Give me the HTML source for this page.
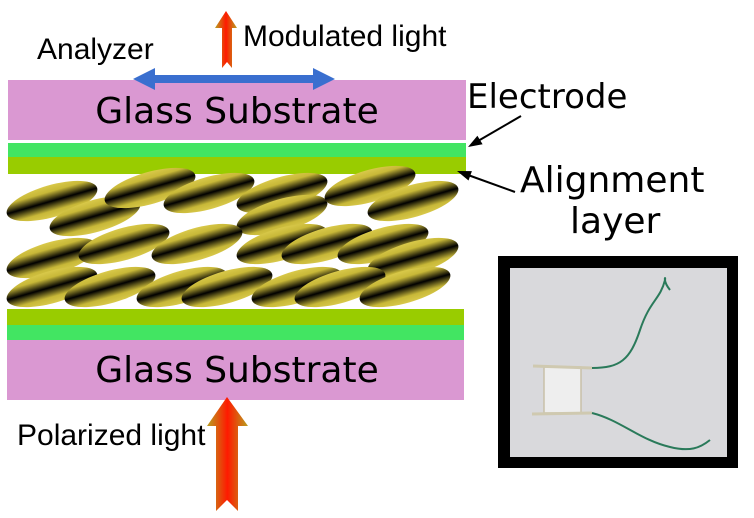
<!DOCTYPE html>
<html><head><meta charset="utf-8"><style>
html,body{margin:0;padding:0;background:#fff;}
svg{display:block;font-family:"DejaVu Sans","Liberation Sans",sans-serif;}
.a{font-family:"Liberation Sans",Arial,sans-serif;}
</style></head><body>
<svg width="754" height="518" viewBox="0 0 754 518" xmlns="http://www.w3.org/2000/svg">
<defs>
<linearGradient id="lc" x1="0" y1="0" x2="0" y2="1">
<stop offset="0" stop-color="#d9c94a"/><stop offset="0.2" stop-color="#c8b838"/><stop offset="0.5" stop-color="#000"/><stop offset="0.8" stop-color="#c8b838"/><stop offset="1" stop-color="#d9c94a"/>
</linearGradient>
<linearGradient id="ar" x1="0" y1="0" x2="1" y2="0">
<stop offset="0" stop-color="#b8a020"/><stop offset="0.5" stop-color="#ff1a00"/><stop offset="1" stop-color="#b8a020"/>
</linearGradient>
<g id="el"><ellipse cx="0" cy="0" rx="47" ry="16" fill="url(#lc)"/></g>
</defs>
<rect x="8" y="80" width="458" height="60" fill="#da98d2"/>
<rect x="8" y="143" width="458" height="14" fill="#42e562"/>
<rect x="8" y="157" width="458" height="17" fill="#99cc00"/>
<rect x="7" y="309" width="457" height="16" fill="#99cc00"/>
<rect x="7" y="325" width="457" height="15" fill="#42e562"/>
<rect x="7" y="340" width="457" height="60" fill="#da98d2"/>
<g>
<use href="#el" transform="translate(52,201) rotate(-16)"/>
<use href="#el" transform="translate(95,216) rotate(-16)"/>
<use href="#el" transform="translate(150,188) rotate(-16)"/>
<use href="#el" transform="translate(209,193) rotate(-16)"/>
<use href="#el" transform="translate(282,193) rotate(-16)"/>
<use href="#el" transform="translate(282,215) rotate(-16)"/>
<use href="#el" transform="translate(370,186) rotate(-16)"/>
<use href="#el" transform="translate(413,201) rotate(-16)"/>
<use href="#el" transform="translate(52,258) rotate(-16)"/>
<use href="#el" transform="translate(124,244) rotate(-16)"/>
<use href="#el" transform="translate(197,244) rotate(-16)"/>
<use href="#el" transform="translate(282,244) rotate(-16)"/>
<use href="#el" transform="translate(327,244) rotate(-16)"/>
<use href="#el" transform="translate(383,244) rotate(-16)"/>
<use href="#el" transform="translate(413,258) rotate(-16)"/>
<use href="#el" transform="translate(52,287) rotate(-16)"/>
<use href="#el" transform="translate(110,287) rotate(-16)"/>
<use href="#el" transform="translate(182,287) rotate(-16)"/>
<use href="#el" transform="translate(227,287) rotate(-16)"/>
<use href="#el" transform="translate(297,287) rotate(-16)"/>
<use href="#el" transform="translate(340,287) rotate(-16)"/>
<use href="#el" transform="translate(405,287) rotate(-16)"/>
</g>
<path d="M133,79 L155,68 L155,75 L313,75 L313,68 L335,79 L313,90 L313,83 L155,83 L155,90 z" fill="#3a6fcf"/>
<path d="M226,11 L237,28 L232,28 L232,68 L227,62 L222,68 L222,28 L215,28 z" fill="url(#ar)"/>
<path d="M227,397 L248,426 L238,426 L238,511 L227,500 L216,511 L216,426 L207,426 z" fill="url(#ar)"/>
<text class="a" x="37" y="59" font-size="30">Analyzer</text>
<text class="a" x="243" y="46" font-size="30">Modulated light</text>
<text x="237" y="123" font-size="36" text-anchor="middle">Glass Substrate</text>
<text x="237" y="382" font-size="36" text-anchor="middle">Glass Substrate</text>
<text class="a" x="17" y="445" font-size="30">Polarized light</text>
<text x="467" y="108" font-size="34">Electrode</text>
<text x="520" y="192" font-size="36">Alignment</text>
<text x="570" y="233" font-size="36">layer</text>
<line x1="521" y1="116" x2="478" y2="141" stroke="#000" stroke-width="2"/>
<polygon points="468,147 482.6,144.3 477.4,135.7" fill="#000"/>
<line x1="515" y1="192" x2="468" y2="175" stroke="#000" stroke-width="2"/>
<polygon points="457,171 471.9,171.1 468.5,180.5" fill="#000"/>
<rect x="498" y="256" width="240" height="212" fill="#000"/>
<rect x="510" y="268" width="217" height="189" fill="#d9d9dc"/>
<rect x="544" y="367" width="37" height="46" fill="#eeeeee" stroke="#c8c0a8" stroke-width="1.5"/>
<line x1="533" y1="366" x2="592" y2="368" stroke="#cfc9b0" stroke-width="3"/>
<line x1="532" y1="414" x2="592" y2="413" stroke="#cfc9b0" stroke-width="3"/>
<path d="M592,368 C620,368 630,360 640,330 C650,300 660,300 665,280 C666,275 662,280 670,290" fill="none" stroke="#2a7a5a" stroke-width="2"/>
<path d="M592,413 C620,420 640,440 670,447 C690,452 700,448 710,440" fill="none" stroke="#2a7a5a" stroke-width="2"/>
</svg>
</body></html>
